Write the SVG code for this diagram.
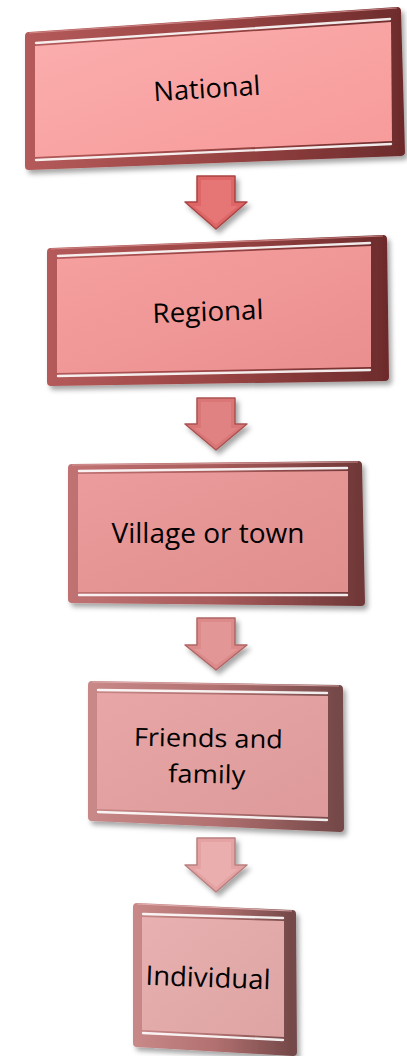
<svg xmlns="http://www.w3.org/2000/svg" width="407" height="1056" viewBox="0 0 407 1056">
  <style>
    .rim { stroke-width: 8; stroke-linejoin: round; }
    .edge { fill: none; stroke-width: 1.2; stroke-linejoin: round; opacity: 0.8; }
    .face { stroke: none; }
    .hl { fill: none; stroke: #ffffff; stroke-width: 2.4; stroke-linecap: round; opacity: 0.9; }
    .label { font-family: "Open Sans", "Liberation Sans", sans-serif; font-size: 27px; fill: #000000; text-anchor: middle; }
    .small { font-size: 25px; }
    .arrow { stroke-linejoin: round; stroke-width: 1.5; }
    .arrow-in { stroke: none; opacity: 0.55; }
  </style>
  <defs>
    <filter id="shadow" x="-10%" y="-10%" width="125%" height="130%">
      <feDropShadow dx="3" dy="4" stdDeviation="2.5" flood-color="#000000" flood-opacity="0.35"/>
    </filter>
    <linearGradient id="frame" x1="0" y1="0" x2="1" y2="0">
      <stop offset="0" stop-color="#b45a5a"/>
      <stop offset="0.5" stop-color="#9a4444"/>
      <stop offset="1" stop-color="#6e2c2c"/>
    </linearGradient>
    <linearGradient id="frame2" x1="0" y1="0" x2="1" y2="0">
      <stop offset="0" stop-color="#c07272"/>
      <stop offset="0.5" stop-color="#a85a5a"/>
      <stop offset="1" stop-color="#703838"/>
    </linearGradient>
    <linearGradient id="frame3" x1="0" y1="0" x2="1" y2="0">
      <stop offset="0" stop-color="#c88888"/>
      <stop offset="0.5" stop-color="#b27070"/>
      <stop offset="1" stop-color="#744848"/>
    </linearGradient>
    <linearGradient id="face1" x1="0" y1="0" x2="1" y2="1">
      <stop offset="0" stop-color="#fbaeae"/>
      <stop offset="1" stop-color="#f79a9a"/>
    </linearGradient>
    <linearGradient id="face2" x1="0" y1="0" x2="1" y2="1">
      <stop offset="0" stop-color="#f6a0a0"/>
      <stop offset="1" stop-color="#ea8e8e"/>
    </linearGradient>
    <linearGradient id="face3" x1="0" y1="0" x2="1" y2="1">
      <stop offset="0" stop-color="#ec9c9c"/>
      <stop offset="1" stop-color="#e08e8e"/>
    </linearGradient>
    <linearGradient id="face4" x1="0" y1="0" x2="1" y2="1">
      <stop offset="0" stop-color="#e8a6a6"/>
      <stop offset="1" stop-color="#de9a9a"/>
    </linearGradient>
    <linearGradient id="face5" x1="0" y1="0" x2="1" y2="1">
      <stop offset="0" stop-color="#e8b0b0"/>
      <stop offset="1" stop-color="#dea4a4"/>
    </linearGradient>
  </defs>

  <!-- connectors: bevelled block arrows -->
  <g id="connectors">
    <g filter="url(#shadow)">
      <path class="arrow" d="M197 176 L235 176 L235 202 L247 202 L216 229 L185 202 L197 202 Z" fill="#de6666" stroke="#a84444"/>
      <path class="arrow-in" d="M201 180 L231 180 L231 206 L238 206 L216 224 L194 206 L201 206 Z" fill="#ec8080"/>
    </g>
    <g filter="url(#shadow)">
      <path class="arrow" d="M197 398 L235 398 L235 424 L247 424 L216 450 L185 424 L197 424 Z" fill="#da7676" stroke="#aa5252"/>
      <path class="arrow-in" d="M201 402 L231 402 L231 428 L238 428 L216 445 L194 428 L201 428 Z" fill="#e88c8c"/>
    </g>
    <g filter="url(#shadow)">
      <path class="arrow" d="M197 618 L235 618 L235 645 L247 645 L216 670 L185 645 L197 645 Z" fill="#dc8a8a" stroke="#b06666"/>
      <path class="arrow-in" d="M201 622 L231 622 L231 649 L238 649 L216 665 L194 649 L201 649 Z" fill="#eaa0a0"/>
    </g>
    <g filter="url(#shadow)">
      <path class="arrow" d="M197 838 L235 838 L235 865 L247 865 L216 892 L185 865 L197 865 Z" fill="#e4a2a2" stroke="#b88080"/>
      <path class="arrow-in" d="M201 842 L231 842 L231 869 L238 869 L216 887 L194 869 L201 869 Z" fill="#f0b8b8"/>
    </g>
  </g>

  <!-- National -->
  <g id="node-national">
    <path class="rim" filter="url(#shadow)" d="M29 36 L397 11 L401 152 L29 166 Z" fill="url(#frame)" stroke="url(#frame)"/>
    <path class="edge" d="M29 36 L397 11" stroke="#d89090" transform="translate(0 -3)"/>
    <path class="face" d="M35 46 L391 22 L392 141 L35 157 Z" fill="url(#face1)"/>
    <path class="hl" d="M36 43 L390 19"/>
    <path class="hl" d="M36 160 L391 144"/>
    <text class="label" x="207" y="98" transform="rotate(-3.5 207 90)" textLength="107" lengthAdjust="spacingAndGlyphs">National</text>
  </g>

  <!-- Regional -->
  <g id="node-regional">
    <path class="rim" filter="url(#shadow)" d="M51 252 L383 239 L385 377 L51 382 Z" fill="url(#frame)" stroke="url(#frame)"/>
    <path class="edge" d="M51 252 L383 239" stroke="#d89090" transform="translate(0 -3)"/>
    <path class="face" d="M57 259 L371 246 L371 367 L57 373 Z" fill="url(#face2)"/>
    <path class="hl" d="M58 256 L370 243"/>
    <path class="hl" d="M58 376 L370 370"/>
    <text class="label" x="208" y="321" transform="rotate(-2 208 312)" textLength="111" lengthAdjust="spacingAndGlyphs">Regional</text>
  </g>

  <!-- Village or town -->
  <g id="node-village">
    <path class="rim" filter="url(#shadow)" d="M72 468 L358 465 L361 602 L72 599 Z" fill="url(#frame2)" stroke="url(#frame2)"/>
    <path class="edge" d="M72 468 L358 465" stroke="#dca0a0" transform="translate(0 -3)"/>
    <path class="face" d="M78 474 L348 471 L348 592 L78 592 Z" fill="url(#face3)"/>
    <path class="hl" d="M79 471 L347 468"/>
    <path class="hl" d="M79 595 L347 595"/>
    <text class="label" x="208" y="543" textLength="193" lengthAdjust="spacingAndGlyphs">Village or town</text>
  </g>

  <!-- Friends and family -->
  <g id="node-friends">
    <path class="rim" filter="url(#shadow)" d="M92 685 L339 689 L340 828 L92 817 Z" fill="url(#frame3)" stroke="url(#frame3)"/>
    <path class="edge" d="M92 685 L339 689" stroke="#e4b0b0" transform="translate(0 -3)"/>
    <path class="face" d="M97 693 L328 696 L328 817 L97 809 Z" fill="url(#face4)"/>
    <path class="hl" d="M98 690 L327 693"/>
    <path class="hl" d="M98 812 L327 820"/>
    <g transform="rotate(1 208 760)">
      <text class="label small" x="208" y="747" textLength="149" lengthAdjust="spacingAndGlyphs">Friends and</text>
      <text class="label small" x="207" y="783" textLength="77" lengthAdjust="spacingAndGlyphs">family</text>
    </g>
  </g>

  <!-- Individual -->
  <g id="node-individual">
    <path class="rim" filter="url(#shadow)" d="M137 907 L292 914 L293 1052 L137 1043 Z" fill="url(#frame3)" stroke="url(#frame3)"/>
    <path class="edge" d="M137 907 L292 914" stroke="#e8b8b8" transform="translate(0 -3)"/>
    <path class="face" d="M142 917 L284 921 L284 1037 L142 1030 Z" fill="url(#face5)"/>
    <path class="hl" d="M143 914 L283 918"/>
    <path class="hl" d="M143 1033 L283 1040"/>
    <text class="label" x="208" y="987" transform="rotate(2 208 978)" textLength="125" lengthAdjust="spacingAndGlyphs">Individual</text>
  </g>
</svg>
